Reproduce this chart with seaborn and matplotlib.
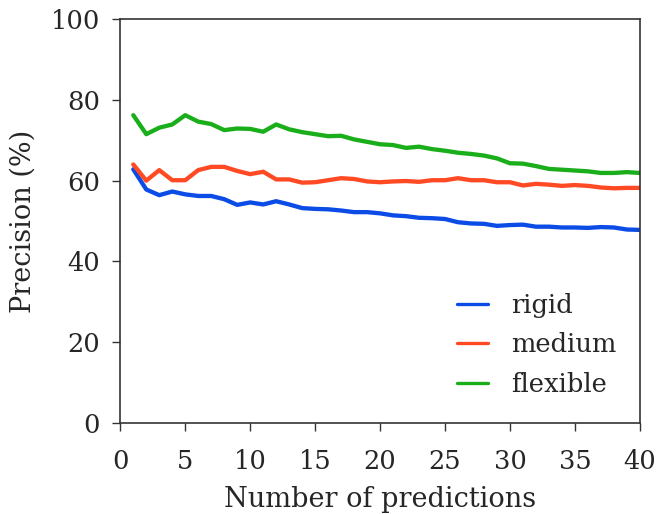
import numpy as np
import pandas as pd
import matplotlib
matplotlib.use("Agg")
import matplotlib.pyplot as plt
import seaborn as sns

# Number of predictions (1..40)
n_predictions = list(range(1, 41))

rigid = [62.8, 57.8, 56.4, 57.3, 56.6, 56.2, 56.2, 55.4, 54.0, 54.6,
         54.1, 54.9, 54.1, 53.2, 53.0, 52.9, 52.6, 52.2, 52.2, 51.9,
         51.4, 51.2, 50.8, 50.7, 50.5, 49.7, 49.4, 49.3, 48.8, 49.0,
         49.1, 48.6, 48.6, 48.4, 48.4, 48.3, 48.5, 48.4, 47.9, 47.8]

medium = [64.0, 60.0, 62.6, 60.1, 60.1, 62.6, 63.4, 63.4, 62.4, 61.6,
          62.2, 60.3, 60.3, 59.5, 59.6, 60.1, 60.6, 60.4, 59.8, 59.6,
          59.8, 59.9, 59.7, 60.1, 60.1, 60.6, 60.1, 60.1, 59.6, 59.6,
          58.8, 59.2, 59.0, 58.7, 58.9, 58.7, 58.3, 58.1, 58.2, 58.2]

flexible = [76.2, 71.5, 73.1, 73.9, 76.2, 74.6, 74.0, 72.5, 72.9, 72.8,
            72.1, 73.9, 72.7, 72.0, 71.5, 71.0, 71.1, 70.2, 69.6, 69.0,
            68.8, 68.1, 68.4, 67.8, 67.4, 66.9, 66.6, 66.2, 65.5, 64.3,
            64.2, 63.6, 62.9, 62.7, 62.5, 62.3, 61.9, 61.9, 62.1, 61.9]

series_names = ["rigid", "medium", "flexible"]
series_colors = ["#0b4be6", "#ff4a24", "#1aae1a"]

df = pd.DataFrame({
    "n": n_predictions * 3,
    "precision": rigid + medium + flexible,
    "stiffness": sum([[name] * len(n_predictions) for name in series_names], []),
})

sns.set_theme(style="ticks")
plt.rcParams["font.family"] = ["DejaVu Serif"]

fig, ax = plt.subplots(figsize=(6.61, 5.14), dpi=100)
sns.lineplot(data=df, x="n", y="precision", hue="stiffness",
             hue_order=series_names, palette=series_colors,
             linewidth=3.1, ax=ax)

ax.set_xlim(0, 40)
ax.set_ylim(0, 100)
ax.set_xticks(range(0, 41, 5))
ax.set_yticks(range(0, 101, 20))
ax.tick_params(labelsize=18.5, length=5.5, width=1, color="#333333")
ax.tick_params(axis="x", pad=13)
ax.tick_params(axis="y", pad=9)
ax.set_xlabel("Number of predictions", fontsize=19.5, labelpad=9)
ax.set_ylabel("Precision (%)", fontsize=19.5, labelpad=10)
for s in ax.spines.values():
    s.set_linewidth(1.2)
    s.set_color("#333333")

leg = ax.legend(loc="lower right", frameon=False, fontsize=18.5,
                handlelength=1.2, handletextpad=0.9, labelspacing=0.56,
                borderaxespad=0.0, bbox_to_anchor=(0.975, 0.04))
for line in leg.get_lines():
    line.set_linewidth(2.4)

fig.subplots_adjust(left=0.182, right=0.968, top=0.963, bottom=0.177)
fig.savefig("out.png", dpi=100)
